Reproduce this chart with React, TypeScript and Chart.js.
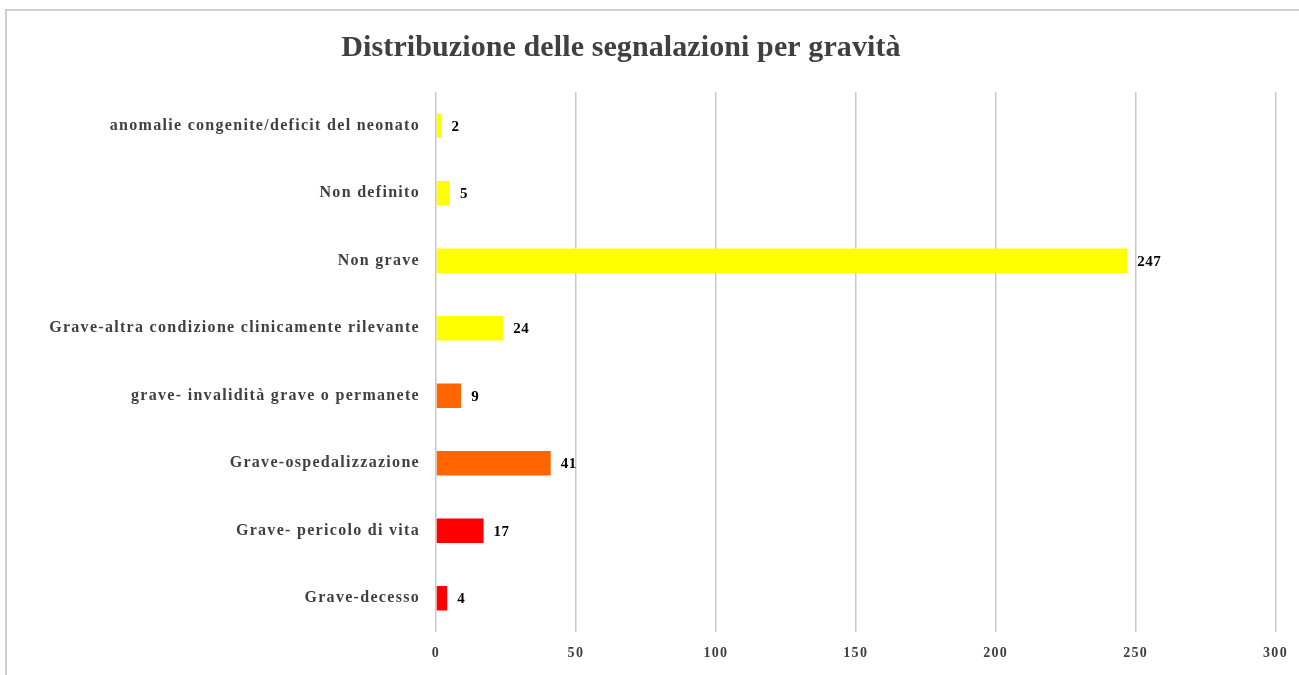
import React, { useEffect, useRef } from "react";
import { Chart, registerables } from "chart.js";

Chart.register(...registerables);

const TITLE = "Distribuzione delle segnalazioni per gravità";
const categories = [
  "anomalie congenite/deficit del neonato",
  "Non definito",
  "Non grave",
  "Grave-altra condizione clinicamente rilevante",
  "grave- invalidità grave o permanete",
  "Grave-ospedalizzazione",
  "Grave- pericolo di vita",
  "Grave-decesso",
];
const values = [2, 5, 247, 24, 9, 41, 17, 4];
const barColors = [
  "#FFFF00",
  "#FFFF00",
  "#FFFF00",
  "#FFFF00",
  "#FF6600",
  "#FF6600",
  "#FF0000",
  "#FF0000",
];
const xMin = 0;
const xMax = 300;
const xStep = 50;

const FONT = "'Liberation Serif', 'Times New Roman', serif";

const spacingPlugin = {
  id: "spacing",
  beforeDraw(chart: any) {
    chart.ctx.letterSpacing = "1.3px";
  },
  afterDraw(chart: any) {
    chart.ctx.letterSpacing = "0px";
  },
};

const titlePlugin = {
  id: "customTitle",
  afterDraw(chart: any) {
    const ctx = chart.ctx;
    ctx.save();
    ctx.letterSpacing = "0.1px";
    ctx.font = `bold 30px ${FONT}`;
    ctx.fillStyle = "#404040";
    ctx.textAlign = "center";
    ctx.textBaseline = "alphabetic";
    ctx.fillText(TITLE, 621, 56);
    ctx.restore();
  },
};

const valueLabelPlugin = {
  id: "valueLabels",
  afterDatasetsDraw(chart: any) {
    const ctx = chart.ctx;
    const meta = chart.getDatasetMeta(0);
    ctx.save();
    ctx.letterSpacing = "0.5px";
    ctx.font = `bold 15px ${FONT}`;
    ctx.fillStyle = "#000000";
    ctx.textAlign = "left";
    ctx.textBaseline = "middle";
    meta.data.forEach((bar: any, i: number) => {
      ctx.fillText(String(values[i]), bar.x + 10, bar.y + 1);
    });
    ctx.restore();
  },
};

export default function App() {
  const canvasRef = useRef<HTMLCanvasElement>(null);

  useEffect(() => {
    if (!canvasRef.current) return;
    const chart = new Chart(canvasRef.current, {
      type: "bar",
      data: {
        labels: categories,
        datasets: [
          {
            data: values,
            backgroundColor: barColors,
            borderWidth: 0,
            barPercentage: 0.72,
            categoryPercentage: 0.5,
          },
        ],
      },
      options: {
        indexAxis: "y",
        animation: false,
        responsive: false,
        maintainAspectRatio: false,
        layout: { padding: { left: 0, right: 17, top: 92, bottom: 0 } },
        plugins: {
          legend: { display: false },
          title: { display: false },
          tooltip: { enabled: false },
        },
        scales: {
          x: {
            min: xMin,
            max: xMax,
            ticks: {
              stepSize: xStep,
              padding: 13,
              color: "#404040",
              font: { family: FONT, size: 14, weight: "bold" },
            },
            grid: {
              color: "#c8c8c8",
              lineWidth: 1.5,
              drawTicks: false,
            },
            border: { display: false },
            afterFit(scale: any) {
              scale.height = 43;
            },
          },
          y: {
            ticks: {
              padding: 16,
              color: "#404040",
              font: { family: FONT, size: 16, weight: "bold" },
            },
            grid: { display: false, drawTicks: false },
            border: { display: false },
            afterFit(scale: any) {
              scale.width = 436;
            },
          },
        },
      },
      plugins: [spacingPlugin, titlePlugin, valueLabelPlugin],
    });
    return () => chart.destroy();
  }, []);

  return (
    <div
      style={{
        position: "absolute",
        left: 0,
        top: 0,
        width: 1299,
        height: 675,
        overflow: "hidden",
        background: "#ffffff",
      }}
    >
      <div
        style={{
          position: "absolute",
          left: 5,
          top: 9,
          width: 1400,
          height: 800,
          border: "2px solid #d0d0d0",
          boxSizing: "border-box",
        }}
      />
      <canvas
        ref={canvasRef}
        width={1299}
        height={675}
        style={{ position: "absolute", left: 0, top: 0, width: 1299, height: 675 }}
      />
    </div>
  );
}
